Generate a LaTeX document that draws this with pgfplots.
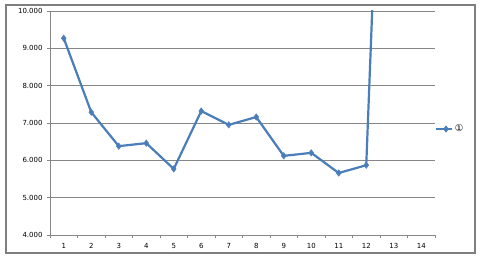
\documentclass[border=0pt]{standalone}
\usepackage{pgfplots}
\pgfplotsset{compat=1.18}
\usepackage{fontspec}
\setmainfont{DejaVu Sans}
\definecolor{ser}{HTML}{4A7EBB}
\definecolor{grd}{HTML}{868686}
\definecolor{frm}{HTML}{7F7F7F}
\begin{document}
\begin{tikzpicture}
\fill[white] (-50bp,-24bp) rectangle (430bp,235bp);
\draw[frm, line width=1.6bp] (-44bp,-18bp) rectangle (425bp,230bp);
\begin{axis}[
  at={(0,0)}, anchor=south west,
  width=385bp, height=224bp, scale only axis,
  xmin=0.5, xmax=14.5, ymin=4, ymax=10,
  axis x line=bottom, axis y line=left,
  axis line style={-, grd, line width=0.8bp},
  xtick={1,...,14},
  major x tick style={draw=none},
  minor xtick={0.5,1.5,...,14.5},
  minor x tick style={grd, line width=0.6bp},
  minor tick length=3bp,
  ytick={4,5,...,10},
  major tick length=3bp,
  tick align=outside,
  y tick style={grd, line width=0.6bp},
  ymajorgrids,
  grid style={grd, line width=0.8bp},
  clip marker paths=true,
  /pgf/number format/assume math mode=true,
  xticklabel={\pgfmathprintnumber{\tick}},
  yticklabel={\pgfmathprintnumber[fixed,fixed zerofill,precision=3]{\tick}},
  every tick label/.append style={font=\fontsize{7}{8}\selectfont, text=black},
  yticklabel style={xshift=-1bp},
  xticklabel style={yshift=-2bp},
  legend style={at={(1.0,0.473)}, anchor=west, draw=none, fill=none,
    font=\fontsize{9.5}{11}\selectfont, inner sep=0pt, legend cell align=left},
  legend image code/.code={
    \draw[#1, line width=1.6bp] (0bp,0bp) -- (16bp,0bp);
    \draw[#1, mark repeat=1] plot coordinates {(10bp,0bp)};
  },
]
\addplot[ser, line width=2.2bp, mark=diamond*, mark size=3.2bp, mark options={fill=ser, line width=0.5bp}]
coordinates {
(1,9.27) (2,7.29) (3,6.38) (4,6.46) (5,5.77) (6,7.32) (7,6.95)
(8,7.16) (9,6.12) (10,6.20) (11,5.66) (12,5.87) (13,25)
};
\addlegendentry{①}
\end{axis}
\end{tikzpicture}
\end{document}
